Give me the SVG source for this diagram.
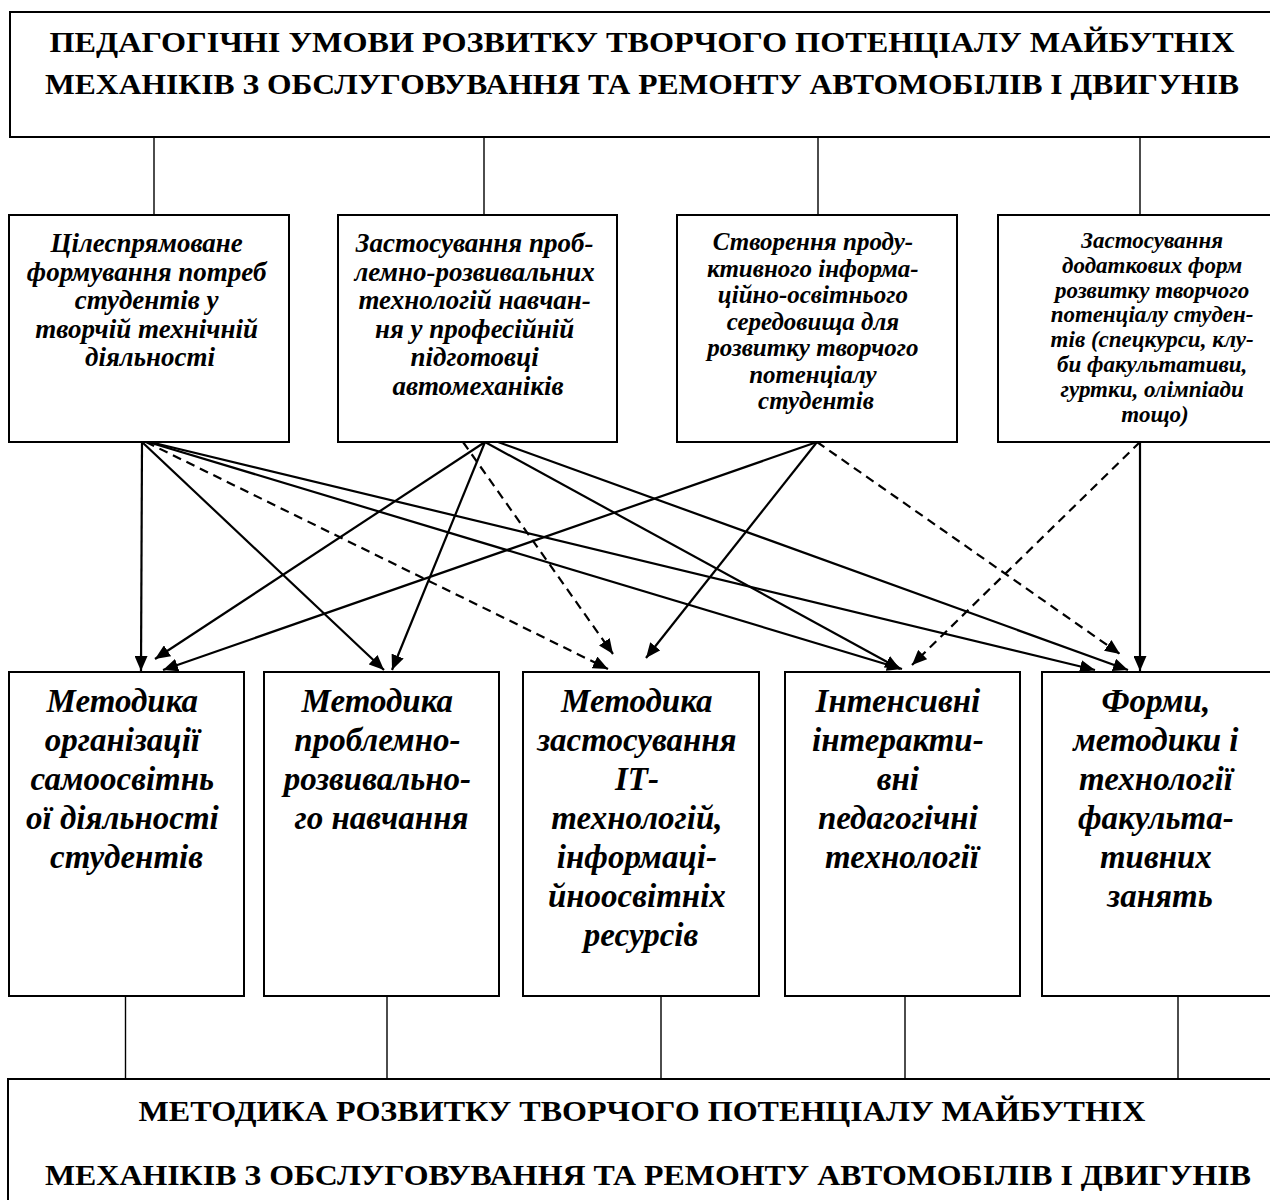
<svg xmlns="http://www.w3.org/2000/svg" width="1270" height="1200" viewBox="0 0 1270 1200">
<style>
.box{fill:#fff;stroke:#000;stroke-width:2}
.conn{stroke:#000;stroke-width:1.4;fill:none}
.arr{stroke:#000;stroke-width:2.2;fill:none;marker-end:url(#ah)}
.dash{stroke-dasharray:9 6}
.title{font-weight:bold;font-size:30px;text-anchor:middle;fill:#000}
.mid{font-weight:bold;font-style:italic;text-anchor:middle;fill:#000}
.m1{font-size:27px}
.m3{font-size:25px}
.m4{font-size:23px}
.bot{font-weight:bold;font-style:italic;font-size:33px;text-anchor:middle;fill:#000}
</style>
<defs>
<marker id="ah" markerUnits="userSpaceOnUse" markerWidth="15" markerHeight="13" refX="15" refY="6.5" orient="auto">
<path d="M0,0 L15,6.5 L0,13 z" fill="#000"/>
</marker>
</defs>
<rect width="1270" height="1200" fill="#fff"/>

<g id="connectors">
<line class="conn" x1="154" y1="137" x2="154" y2="215"/>
<line class="conn" x1="484" y1="137" x2="484" y2="215"/>
<line class="conn" x1="818" y1="137" x2="818" y2="215"/>
<line class="conn" x1="1140" y1="137" x2="1140" y2="215"/>
<line class="conn" x1="125.5" y1="996" x2="125.5" y2="1079"/>
<line class="conn" x1="387" y1="996" x2="387" y2="1079"/>
<line class="conn" x1="661" y1="996" x2="661" y2="1079"/>
<line class="conn" x1="905" y1="996" x2="905" y2="1079"/>
<line class="conn" x1="1178" y1="996" x2="1178" y2="1079"/>

<line class="arr" x1="142" y1="442" x2="141" y2="671"/>
<line class="arr" x1="142" y1="442" x2="384" y2="670"/>
<line class="arr dash" x1="146" y1="442" x2="608" y2="669"/>
<line class="arr" x1="148" y1="442" x2="902" y2="669"/>
<line class="arr" x1="150" y1="442" x2="1095" y2="670"/>

<line class="arr" x1="485" y1="442" x2="155" y2="659"/>
<line class="arr" x1="485" y1="442" x2="392" y2="670"/>
<line class="arr dash" x1="463" y1="442" x2="613" y2="654"/>
<line class="arr" x1="485" y1="442" x2="900" y2="669"/>
<line class="arr" x1="498" y1="442" x2="1128" y2="670"/>

<line class="arr" x1="817" y1="442" x2="163" y2="670"/>
<line class="arr" x1="817" y1="442" x2="646" y2="658"/>
<line class="arr dash" x1="817" y1="442" x2="1120" y2="654"/>

<line class="arr dash" x1="1140" y1="442" x2="912" y2="665"/>
<line class="arr" x1="1140" y1="442" x2="1140" y2="671"/>
</g>

<g id="top">
<rect class="box" x="10" y="12" width="1280" height="125"/>
<text class="title" font-family="'Liberation Serif', 'Times New Roman', serif" x="642" y="52" textLength="1185" lengthAdjust="spacingAndGlyphs">ПЕДАГОГІЧНІ УМОВИ РОЗВИТКУ ТВОРЧОГО ПОТЕНЦІАЛУ МАЙБУТНІХ</text>
<text class="title" font-family="'Liberation Serif', 'Times New Roman', serif" x="642" y="94" textLength="1194" lengthAdjust="spacingAndGlyphs">МЕХАНІКІВ З ОБСЛУГОВУВАННЯ ТА РЕМОНТУ АВТОМОБІЛІВ І ДВИГУНІВ</text>
</g>

<g id="cond1">
<rect class="box" x="9" y="215" width="280" height="227"/>
<text class="mid m1" font-family="'Liberation Serif', 'Times New Roman', serif" x="150">
<tspan x="150" y="252">Цілеспрямоване</tspan>
<tspan x="150" y="280.5">формування потреб</tspan>
<tspan x="150" y="309">студентів у</tspan>
<tspan x="150" y="337.5">творчій технічній</tspan>
<tspan x="150" y="366">діяльності</tspan>
</text>
</g>

<g id="cond2">
<rect class="box" x="338" y="215" width="279" height="227"/>
<text class="mid m1" font-family="'Liberation Serif', 'Times New Roman', serif" x="478">
<tspan x="478" y="252">Застосування проб-</tspan>
<tspan x="478" y="280.5">лемно-розвивальних</tspan>
<tspan x="478" y="309">технологій навчан-</tspan>
<tspan x="478" y="337.5">ня у професійній</tspan>
<tspan x="478" y="366">підготовці</tspan>
<tspan x="478" y="394.5">автомеханіків</tspan>
</text>
</g>

<g id="cond3">
<rect class="box" x="677" y="215" width="280" height="227"/>
<text class="mid m3" font-family="'Liberation Serif', 'Times New Roman', serif" x="816">
<tspan x="816" y="250">Створення проду-</tspan>
<tspan x="816" y="276.5">ктивного інформа-</tspan>
<tspan x="816" y="303">ційно-освітнього</tspan>
<tspan x="816" y="329.5">середовища для</tspan>
<tspan x="816" y="356">розвитку творчого</tspan>
<tspan x="816" y="382.5">потенціалу</tspan>
<tspan x="816" y="409">студентів</tspan>
</text>
</g>

<g id="cond4">
<rect class="box" x="998" y="215" width="300" height="227"/>
<text class="mid m4" font-family="'Liberation Serif', 'Times New Roman', serif" x="1155">
<tspan x="1155" y="248">Застосування</tspan>
<tspan x="1155" y="272.8">додаткових форм</tspan>
<tspan x="1155" y="297.6">розвитку творчого</tspan>
<tspan x="1155" y="322.4">потенціалу студен-</tspan>
<tspan x="1155" y="347.2">тів (спецкурси, клу-</tspan>
<tspan x="1155" y="372">би факультативи,</tspan>
<tspan x="1155" y="396.8">гуртки, олімпіади</tspan>
<tspan x="1155" y="421.6">тощо)</tspan>
</text>
</g>

<g id="meth1">
<rect class="box" x="9" y="672" width="235" height="324"/>
<text class="bot" font-family="'Liberation Serif', 'Times New Roman', serif" x="126.5">
<tspan x="126.5" y="712">Методика</tspan>
<tspan x="126.5" y="751">організації</tspan>
<tspan x="126.5" y="790">самоосвітнь</tspan>
<tspan x="126.5" y="829">ої діяльності</tspan>
<tspan x="126.5" y="868">студентів</tspan>
</text>
</g>

<g id="meth2">
<rect class="box" x="264" y="672" width="235" height="324"/>
<text class="bot" font-family="'Liberation Serif', 'Times New Roman', serif" x="381.5">
<tspan x="381.5" y="712">Методика</tspan>
<tspan x="381.5" y="751">проблемно-</tspan>
<tspan x="381.5" y="790">розвивально-</tspan>
<tspan x="381.5" y="829">го навчання</tspan>
</text>
</g>

<g id="meth3">
<rect class="box" x="523" y="672" width="236" height="324"/>
<text class="bot" font-family="'Liberation Serif', 'Times New Roman', serif" x="641">
<tspan x="641" y="712">Методика</tspan>
<tspan x="641" y="751">застосування</tspan>
<tspan x="641" y="790">ІТ-</tspan>
<tspan x="641" y="829">технологій,</tspan>
<tspan x="641" y="868">інформаці-</tspan>
<tspan x="641" y="907">йноосвітніх</tspan>
<tspan x="641" y="946">ресурсів</tspan>
</text>
</g>

<g id="meth4">
<rect class="box" x="785" y="672" width="235" height="324"/>
<text class="bot" font-family="'Liberation Serif', 'Times New Roman', serif" x="902">
<tspan x="902" y="712">Інтенсивні</tspan>
<tspan x="902" y="751">інтеракти-</tspan>
<tspan x="902" y="790">вні</tspan>
<tspan x="902" y="829">педагогічні</tspan>
<tspan x="902" y="868">технології</tspan>
</text>
</g>

<g id="meth5">
<rect class="box" x="1042" y="672" width="236" height="324"/>
<text class="bot" font-family="'Liberation Serif', 'Times New Roman', serif" x="1160">
<tspan x="1160" y="712">Форми,</tspan>
<tspan x="1160" y="751">методики і</tspan>
<tspan x="1160" y="790">технології</tspan>
<tspan x="1160" y="829">факульта-</tspan>
<tspan x="1160" y="868">тивних</tspan>
<tspan x="1160" y="907">занять</tspan>
</text>
</g>

<g id="bottom">
<rect class="box" x="8" y="1079" width="1290" height="140"/>
<text class="title" font-family="'Liberation Serif', 'Times New Roman', serif" x="642" y="1121" textLength="1007" lengthAdjust="spacingAndGlyphs">МЕТОДИКА РОЗВИТКУ ТВОРЧОГО ПОТЕНЦІАЛУ МАЙБУТНІХ</text>
<text class="title" font-family="'Liberation Serif', 'Times New Roman', serif" x="648" y="1185" textLength="1206" lengthAdjust="spacingAndGlyphs">МЕХАНІКІВ З ОБСЛУГОВУВАННЯ ТА РЕМОНТУ АВТОМОБІЛІВ І ДВИГУНІВ</text>
</g>
</svg>
